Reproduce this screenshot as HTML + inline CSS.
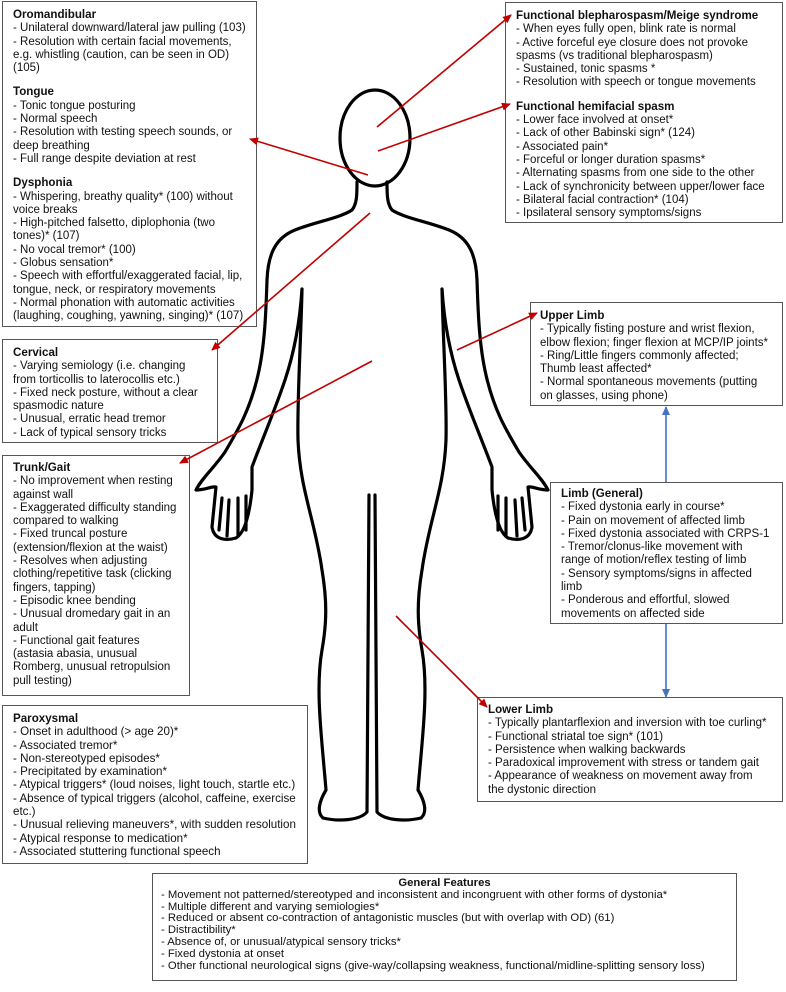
<!DOCTYPE html>
<html><head><meta charset="utf-8"><style>
body{margin:0;width:786px;height:992px;background:#fff;position:relative;overflow:hidden;font-family:"Liberation Sans",Arial,sans-serif;}
.b{position:absolute;border:1px solid #555;box-sizing:border-box;font-size:11.5px;line-height:13.3px;color:#111;padding:6px 0 0 10px;white-space:nowrap;background:#fff;z-index:1;}
.b b{font-weight:bold;font-size:11.6px;}
.s{margin-top:10px;}
.g{font-size:11.3px;line-height:11.8px;padding:4px 0 0 8px;}
svg{position:absolute;left:0;top:0;}
#top{z-index:2;}
</style></head><body>
<svg width="786" height="992" viewBox="0 0 786 992">
<g fill="none" stroke="#000" stroke-width="3.2" stroke-linecap="round" stroke-linejoin="round">
<ellipse cx="375" cy="138" rx="35" ry="48"/>
<g>
<path d="M357,182 C357,194 357,204 352,210 C340,218 315,222 295,230 C275,238 268,255 267,280 C266,310 265,345 258,375 C250,410 238,430 225,452 C214,468 202,478 196,490 C205,490 212,486 216,487 L212,527 C214,540 226,541 236,538 C246,532 250,510 252,490 L252,467 C262,440 275,410 285,380 C295,350 300,320 302,289 C301,340 297,400 298,440 C300,490 315,520 322,570 C327,600 327,622 322,650 C315,690 322,740 326,790 C320,800 316,812 323,818 C340,822 360,820 367,812 L369,495"/>
<path d="M222,498 L219,530 M229,500 L227,536 M238,498 L238,535 M246,496 L246,530"/>
</g>
<g transform="translate(744,0) scale(-1,1)">
<path d="M357,182 C357,194 357,204 352,210 C340,218 315,222 295,230 C275,238 268,255 267,280 C266,310 265,345 258,375 C250,410 238,430 225,452 C214,468 202,478 196,490 C205,490 212,486 216,487 L212,527 C214,540 226,541 236,538 C246,532 250,510 252,490 L252,467 C262,440 275,410 285,380 C295,350 300,320 302,289 C301,340 297,400 298,440 C300,490 315,520 322,570 C327,600 327,622 322,650 C315,690 322,740 326,790 C320,800 316,812 323,818 C340,822 360,820 367,812 L369,495"/>
<path d="M222,498 L219,530 M229,500 L227,536 M238,498 L238,535 M246,496 L246,530"/>
</g>
</g>
</svg>
<svg id="top" width="786" height="992" viewBox="0 0 786 992">
<defs>
<marker id="r" markerWidth="9" markerHeight="8" refX="8" refY="4" orient="auto" markerUnits="userSpaceOnUse"><path d="M0,0 L9,4 L0,8 z" fill="#c00000"/></marker>
<marker id="bl" markerWidth="9" markerHeight="8" refX="8" refY="4" orient="auto" markerUnits="userSpaceOnUse"><path d="M0,0 L9,4 L0,8 z" fill="#4472c4"/></marker>
</defs>
<g stroke="#c00000" stroke-width="1.6" fill="none">
<line x1="377" y1="127" x2="511" y2="15" marker-end="url(#r)"/>
<line x1="378" y1="151" x2="510" y2="104" marker-end="url(#r)"/>
<line x1="368" y1="175" x2="250" y2="139" marker-end="url(#r)"/>
<line x1="370" y1="213" x2="212" y2="350" marker-end="url(#r)"/>
<line x1="372" y1="361" x2="180" y2="463" marker-end="url(#r)"/>
<line x1="457" y1="350" x2="537" y2="313" marker-end="url(#r)"/>
<line x1="396" y1="616" x2="487" y2="707" marker-end="url(#r)"/>
</g>
<g stroke="#4472c4" stroke-width="1.6">
<line x1="666" y1="482" x2="666" y2="407" marker-end="url(#bl)"/>
<line x1="666" y1="624" x2="666" y2="697" marker-end="url(#bl)"/>
</g>
</svg>

<div class="b" style="left:2px;top:1px;width:255px;height:326px;">
<b>Oromandibular</b><br>- Unilateral downward/lateral jaw pulling (103)<br>- Resolution with certain facial movements,<br>e.g. whistling (caution, can be seen in OD)<br>(105)
<div class="s"><b>Tongue</b><br>- Tonic tongue posturing<br>- Normal speech<br>- Resolution with testing speech sounds, or<br>deep breathing<br>- Full range despite deviation at rest</div>
<div class="s"><b>Dysphonia</b><br>- Whispering, breathy quality* (100) without<br>voice breaks<br>- High-pitched falsetto, diplophonia (two<br>tones)* (107)<br>- No vocal tremor* (100)<br>- Globus sensation*<br>- Speech with effortful/exaggerated facial, lip,<br>tongue, neck, or respiratory movements<br>- Normal phonation with automatic activities<br>(laughing, coughing, yawning, singing)* (107)</div>
</div>

<div class="b" style="left:2px;top:339px;width:216px;height:104px;">
<b>Cervical</b><br>- Varying semiology (i.e. changing<br>from torticollis to laterocollis etc.)<br>- Fixed neck posture, without a clear<br>spasmodic nature<br>- Unusual, erratic head tremor<br>- Lack of typical sensory tricks
</div>

<div class="b" style="left:2px;top:455px;width:188px;height:241px;padding-top:5px;">
<b>Trunk/Gait</b><br>- No improvement when resting<br>against wall<br>- Exaggerated difficulty standing<br>compared to walking<br>- Fixed truncal posture<br>(extension/flexion at the waist)<br>- Resolves when adjusting<br>clothing/repetitive task (clicking<br>fingers, tapping)<br>- Episodic knee bending<br>- Unusual dromedary gait in an<br>adult<br>- Functional gait features<br>(astasia abasia, unusual<br>Romberg, unusual retropulsion<br>pull testing)
</div>

<div class="b" style="left:2px;top:705px;width:306px;height:159px;font-size:11.6px;">
<b>Paroxysmal</b><br>- Onset in adulthood (&gt; age 20)*<br>- Associated tremor*<br>- Non-stereotyped episodes*<br>- Precipitated by examination*<br>- Atypical triggers* (loud noises, light touch, startle etc.)<br>- Absence of typical triggers (alcohol, caffeine, exercise<br>etc.)<br>- Unusual relieving maneuvers*, with sudden resolution<br>- Atypical response to medication*<br>- Associated stuttering functional speech
</div>

<div class="b g" style="left:152px;top:873px;width:585px;height:108px;">
<div style="text-align:center;margin-left:-8px;"><b style="font-size:11.3px">General Features</b></div>- Movement not patterned/stereotyped and inconsistent and incongruent with other forms of dystonia*<br>- Multiple different and varying semiologies*<br>- Reduced or absent co-contraction of antagonistic muscles (but with overlap with OD) (61)<br>- Distractibility*<br>- Absence of, or unusual/atypical sensory tricks*<br>- Fixed dystonia at onset<br>- Other functional neurological signs (give-way/collapsing weakness, functional/midline-splitting sensory loss)
</div>

<div class="b" style="left:505px;top:2px;width:278px;height:221px;">
<b>Functional blepharospasm/Meige syndrome</b><br>- When eyes fully open, blink rate is normal<br>- Active forceful eye closure does not provoke<br>spasms (vs traditional blepharospasm)<br>- Sustained, tonic spasms *<br>- Resolution with speech or tongue movements
<div class="s"><b>Functional hemifacial spasm</b><br>- Lower face involved at onset*<br>- Lack of other Babinski sign* (124)<br>- Associated pain*<br>- Forceful or longer duration spasms*<br>- Alternating spasms from one side to the other<br>- Lack of synchronicity between upper/lower face<br>- Bilateral facial contraction* (104)<br>- Ipsilateral sensory symptoms/signs</div>
</div>

<div class="b" style="left:530px;top:302px;width:253px;height:104px;padding-left:9px;">
<b>Upper Limb</b><br>- Typically fisting posture and wrist flexion,<br>elbow flexion; finger flexion at MCP/IP joints*<br>- Ring/Little fingers commonly affected;<br>Thumb least affected*<br>- Normal spontaneous movements (putting<br>on glasses, using phone)
</div>

<div class="b" style="left:550px;top:482px;width:233px;height:142px;padding-top:4px;">
<b>Limb (General)</b><br>- Fixed dystonia early in course*<br>- Pain on movement of affected limb<br>- Fixed dystonia associated with CRPS-1<br>- Tremor/clonus-like movement with<br>range of motion/reflex testing of limb<br>- Sensory symptoms/signs in affected<br>limb<br>- Ponderous and effortful, slowed<br>movements on affected side
</div>

<div class="b" style="left:477px;top:697px;width:306px;height:105px;padding-top:5px;">
<b>Lower Limb</b><br>- Typically plantarflexion and inversion with toe curling*<br>- Functional striatal toe sign* (101)<br>- Persistence when walking backwards<br>- Paradoxical improvement with stress or tandem gait<br>- Appearance of weakness on movement away from<br>the dystonic direction
</div>
</body></html>
